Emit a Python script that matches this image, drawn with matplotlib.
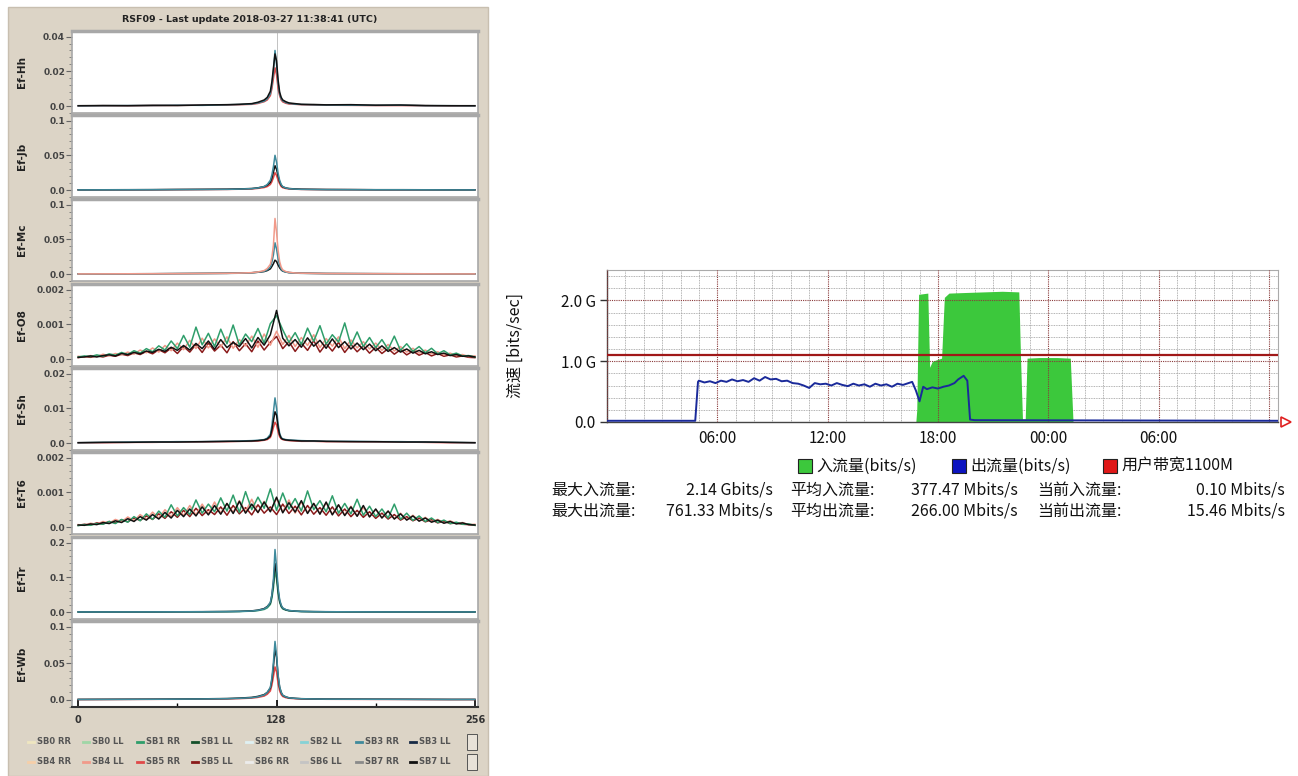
import numpy as np
import matplotlib.pyplot as plt
from matplotlib.patches import Rectangle
from matplotlib.lines import Line2D
from matplotlib.ticker import AutoMinorLocator

W, H = 1298, 776

############## left: spectra data ##################
SERIES = ["SB0 RR", "SB0 LL", "SB1 RR", "SB1 LL", "SB2 RR", "SB2 LL", "SB3 RR", "SB3 LL",
          "SB4 RR", "SB4 LL", "SB5 RR", "SB5 LL", "SB6 RR", "SB6 LL", "SB7 RR", "SB7 LL"]
SERIES_COLORS = ["#efe6c0", "#9fd6a6", "#2f9e6b", "#14502a", "#dff1f3", "#86d2d6", "#3f8a9c", "#172a45",
                 "#f6cfa8", "#f19a8a", "#e04848", "#8a1a1a", "#ececec", "#c4c4c4", "#8a8a8a", "#111111"]

PANELS = ["Ef-Hh", "Ef-Jb", "Ef-Mc", "Ef-O8", "Ef-Sh", "Ef-T6", "Ef-Tr", "Ef-Wb"]
PANEL_YMAX = [0.04, 0.1, 0.1, 0.002, 0.02, 0.002, 0.2, 0.1]
PANEL_YTICKS = [[0, 0.02, 0.04], [0, 0.05, 0.1], [0, 0.05, 0.1], [0, 0.001, 0.002],
                [0, 0.01, 0.02], [0, 0.001, 0.002], [0, 0.1, 0.2], [0, 0.05, 0.1]]
PANEL_YLABELS = [["0.0", "0.02", "0.04"], ["0.0", "0.05", "0.1"], ["0.0", "0.05", "0.1"],
                 ["0.0", "0.001", "0.002"], ["0.0", "0.01", "0.02"], ["0.0", "0.001", "0.002"],
                 ["0.0", "0.1", "0.2"], ["0.0", "0.05", "0.1"]]

# channels for the peaked panels (values in units of 1e-3)
PEAK_CH = [0, 16, 32, 48, 64, 80, 96, 104, 112, 116, 120, 122, 124, 125, 126, 127, 128,
           129, 130, 131, 132, 134, 136, 140, 144, 152, 160, 176, 192, 208, 224, 240, 256]

HH_SB5RR = [0.1, 0.2, 0.2, 0.3, 0.4, 0.5, 0.6, 0.8, 1.0, 1.5, 2.5, 3.5, 6.0, 10, 16, 22, 18,
            10, 6, 3.5, 2.4, 1.6, 1.2, 1.0, 0.8, 0.6, 0.5, 0.4, 0.3, 0.3, 0.2, 0.1, 0.1]
HH_SB3RR = [0.1, 0.2, 0.3, 0.3, 0.5, 0.4, 0.7, 0.9, 1.2, 1.8, 2.8, 4.2, 7.0, 12, 20, 32, 24,
            13, 7, 4.2, 3.0, 2.0, 1.5, 1.1, 0.9, 0.7, 0.6, 0.5, 0.4, 0.5, 0.2, 0.2, 0.1]
HH_SB7LL = [0.2, 0.3, 0.2, 0.4, 0.3, 0.6, 0.8, 1.0, 1.4, 2.2, 3.5, 5.0, 8.5, 14, 22, 30, 26,
            15, 8, 5, 3.5, 2.5, 1.8, 1.4, 1.0, 0.9, 0.7, 0.8, 0.5, 0.6, 0.3, 0.2, 0.2]

JB_SB5RR = [0.2, 0.3, 0.3, 0.4, 0.6, 0.7, 0.9, 1.2, 1.6, 2.4, 3.6, 5.0, 8.0, 12, 18, 25, 21,
            14, 9, 5, 3.4, 2.2, 1.6, 1.2, 0.9, 0.7, 0.6, 0.5, 0.4, 0.3, 0.3, 0.2, 0.2]
JB_SB7LL = [0.3, 0.4, 0.5, 0.6, 0.8, 1.0, 1.2, 1.6, 2.2, 3.2, 5.0, 7.0, 11, 17, 26, 35, 30,
            20, 12, 7, 4.5, 3.0, 2.2, 1.6, 1.2, 1.0, 0.8, 0.7, 0.5, 0.5, 0.4, 0.3, 0.3]
JB_SB3RR = [0.2, 0.3, 0.4, 0.5, 0.7, 0.8, 1.0, 1.4, 2.0, 3.0, 5.0, 8.0, 14, 22, 34, 50, 40,
            24, 14, 8, 5.0, 3.0, 2.0, 1.4, 1.0, 0.8, 0.6, 0.5, 0.4, 0.4, 0.3, 0.2, 0.2]

MC_SB7LL = [0.3, 0.3, 0.4, 0.5, 0.7, 0.9, 1.1, 1.4, 1.9, 2.6, 3.6, 5.0, 7.5, 11, 15, 20, 18,
            13, 9, 6, 4.2, 3.0, 2.2, 1.6, 1.2, 1.0, 0.8, 0.7, 0.6, 0.5, 0.4, 0.3, 0.3]
MC_SB3RR = [0.2, 0.3, 0.3, 0.4, 0.6, 0.7, 0.9, 1.2, 1.8, 2.6, 4.0, 6.0, 10, 17, 28, 45, 36,
            22, 12, 7, 4.4, 2.8, 1.9, 1.3, 1.0, 0.8, 0.6, 0.5, 0.4, 0.4, 0.3, 0.2, 0.2]
MC_SB4LL = [0.2, 0.3, 0.4, 0.5, 0.6, 0.8, 1.0, 1.4, 2.0, 3.0, 5.0, 8.0, 14, 24, 42, 80, 60,
            34, 18, 10, 6.0, 3.6, 2.4, 1.6, 1.2, 0.9, 0.7, 0.6, 0.5, 0.4, 0.3, 0.2, 0.2]

SH_SB5RR = [0.1, 0.1, 0.2, 0.2, 0.3, 0.3, 0.4, 0.5, 0.5, 0.6, 0.8, 1.0, 1.6, 2.8, 4.5, 6.0, 5.2,
            3.2, 1.8, 1.2, 1.0, 0.8, 0.7, 0.6, 0.5, 0.5, 0.4, 0.4, 0.3, 0.3, 0.2, 0.1, 0.1]
SH_SB3RR = [0.1, 0.2, 0.3, 0.3, 0.4, 0.4, 0.5, 0.6, 0.7, 0.8, 1.0, 1.4, 2.5, 5.0, 9.0, 13, 10,
            5.5, 2.8, 1.6, 1.2, 1.0, 0.9, 0.8, 0.7, 0.6, 0.5, 0.5, 0.4, 0.4, 0.3, 0.2, 0.1]
SH_SB7LL = [0.1, 0.2, 0.2, 0.3, 0.3, 0.4, 0.5, 0.5, 0.6, 0.7, 0.9, 1.2, 2.0, 3.8, 6.5, 9.0, 8.0,
            4.5, 2.4, 1.4, 1.1, 0.9, 0.8, 0.7, 0.6, 0.6, 0.5, 0.4, 0.4, 0.3, 0.3, 0.2, 0.1]

TR_SB1RR = [0.2, 0.3, 0.3, 0.4, 0.6, 0.8, 1.1, 1.5, 2.6, 4.2, 7.5, 12, 22, 40, 70, 120, 95,
            52, 28, 15, 9.0, 5.5, 3.6, 2.2, 1.5, 1.0, 0.8, 0.6, 0.5, 0.4, 0.3, 0.3, 0.2]
TR_SB7LL = [0.3, 0.4, 0.4, 0.5, 0.8, 1.0, 1.5, 2.0, 3.4, 5.5, 10, 16, 26, 48, 85, 140, 110,
            62, 32, 18, 11, 6.5, 4.2, 2.6, 1.7, 1.2, 0.9, 0.7, 0.6, 0.5, 0.4, 0.3, 0.3]
TR_SB3RR = [0.3, 0.3, 0.4, 0.5, 0.7, 0.9, 1.3, 1.8, 3.0, 5.0, 9.0, 15, 28, 50, 95, 180, 130,
            70, 36, 20, 12, 7.0, 4.5, 2.8, 1.8, 1.2, 0.9, 0.7, 0.5, 0.4, 0.4, 0.3, 0.3]

WB_SB5RR = [0.2, 0.3, 0.4, 0.5, 0.6, 0.8, 1.1, 1.5, 2.2, 3.2, 5.0, 7.5, 12, 20, 32, 45, 38,
            22, 12, 7, 4.4, 2.8, 2.0, 1.4, 1.0, 0.8, 0.6, 0.5, 0.4, 0.4, 0.3, 0.2, 0.2]
WB_SB7LL = [0.4, 0.5, 0.6, 0.7, 0.9, 1.2, 1.6, 2.2, 3.2, 4.6, 7.0, 10, 16, 27, 46, 70, 58,
            32, 17, 10, 6.0, 3.8, 2.6, 1.9, 1.4, 1.1, 0.9, 0.8, 0.7, 0.6, 0.5, 0.4, 0.4]
WB_SB3RR = [0.3, 0.4, 0.5, 0.6, 0.8, 1.0, 1.4, 1.9, 2.8, 4.0, 6.5, 10, 17, 30, 52, 80, 62,
            34, 18, 10, 6.2, 3.8, 2.6, 1.8, 1.3, 1.0, 0.8, 0.7, 0.6, 0.5, 0.4, 0.3, 0.3]

# broad panels: every 4th channel 0..256 (values in units of 1e-4)
O8_SB5LL = [0.4, 0.7, 0.5, 0.9, 0.6, 1.1, 0.8, 1.4, 1.0, 1.8, 1.3, 2.2, 1.5, 2.7, 1.8, 3.2,
            1.6, 3.6, 2.0, 4.2, 1.9, 4.6, 2.3, 4.0, 1.8, 5.0, 2.4, 4.4, 2.1, 5.2, 2.6, 4.8,
            6.5, 3.0, 5.0, 2.2, 4.6, 2.5, 5.3, 2.0, 4.4, 2.3, 4.8, 1.9, 4.2, 2.1, 3.8, 1.7,
            3.4, 1.6, 3.0, 1.4, 2.7, 1.2, 2.3, 1.1, 1.9, 0.9, 1.6, 0.8, 1.2, 0.6, 0.9, 0.5, 0.4]
O8_SB4LL = [0.8, 0.5, 1.0, 0.7, 1.4, 0.9, 1.6, 1.2, 2.0, 1.4, 2.6, 1.8, 3.2, 2.0, 3.9, 2.4,
            4.6, 2.7, 5.4, 3.0, 6.0, 3.2, 5.8, 3.5, 6.4, 3.1, 5.6, 3.8, 6.6, 3.4, 7.2, 4.0,
            8.0, 4.2, 6.8, 3.6, 6.2, 3.9, 7.0, 3.3, 5.9, 3.7, 6.4, 3.0, 5.5, 3.2, 5.0, 2.9,
            4.6, 2.5, 4.2, 2.3, 3.6, 2.0, 3.1, 1.7, 2.6, 1.5, 2.1, 1.2, 1.7, 1.0, 1.3, 0.7, 0.9]
O8_SB1RR = [0.6, 0.9, 0.7, 1.2, 0.8, 1.5, 1.1, 1.9, 1.3, 2.4, 1.7, 3.0, 2.1, 3.8, 2.6, 5.2,
            3.0, 6.8, 3.4, 9.2, 4.1, 7.4, 3.6, 8.6, 4.4, 9.8, 4.0, 7.2, 5.0, 8.8, 4.6, 10.2,
            12.5, 8.4, 4.8, 7.6, 4.2, 8.9, 5.1, 9.6, 4.3, 7.0, 4.9, 10.4, 3.9, 7.8, 3.6, 6.2,
            3.3, 5.6, 2.8, 6.6, 2.5, 4.4, 2.2, 3.6, 1.8, 3.1, 1.5, 2.4, 1.2, 1.7, 0.9, 1.0, 0.6]
O8_SB7LL = [0.5, 0.6, 0.9, 0.6, 1.0, 1.2, 0.9, 1.6, 1.3, 1.9, 1.5, 2.3, 1.9, 2.8, 2.2, 3.4,
            2.5, 3.9, 2.6, 4.5, 3.0, 5.2, 2.8, 5.6, 3.3, 4.8, 3.6, 5.9, 3.2, 6.2, 4.0, 7.0,
            14.0, 6.0, 3.8, 5.6, 3.4, 6.1, 3.7, 5.4, 3.1, 5.8, 3.3, 5.0, 2.9, 4.6, 2.7, 4.3,
            2.4, 3.8, 2.2, 3.3, 2.0, 2.9, 1.7, 2.5, 1.5, 2.1, 1.3, 1.7, 1.0, 1.3, 0.8, 0.9, 0.6]

T6_SB5LL = [0.5, 0.8, 0.6, 1.2, 0.9, 1.6, 1.2, 2.1, 1.5, 2.6, 1.9, 3.2, 2.2, 3.8, 2.5, 4.4,
            2.8, 4.8, 3.0, 5.4, 3.3, 5.0, 3.6, 5.8, 3.4, 6.2, 3.8, 5.6, 3.5, 6.4, 4.0, 5.8,
            3.6, 6.6, 3.9, 6.0, 3.5, 6.2, 3.7, 5.6, 3.4, 5.8, 3.2, 5.2, 3.0, 4.8, 2.8, 4.4,
            2.5, 4.0, 2.3, 3.6, 2.0, 3.0, 1.8, 2.6, 1.5, 2.1, 1.2, 1.7, 1.0, 1.2, 0.8, 0.7, 0.5]
T6_SB4LL = [0.7, 0.5, 1.1, 0.8, 1.6, 1.1, 2.2, 1.5, 2.9, 1.8, 3.6, 2.2, 4.3, 2.6, 5.0, 3.0,
            5.6, 3.3, 6.2, 3.5, 6.6, 3.8, 7.2, 4.0, 6.8, 4.2, 7.6, 4.4, 8.0, 4.1, 7.4, 4.5,
            8.2, 4.3, 7.8, 4.0, 7.2, 4.2, 6.8, 3.9, 7.0, 3.7, 6.4, 3.5, 6.0, 3.2, 5.6, 3.0,
            5.0, 2.7, 4.6, 2.4, 4.0, 2.1, 3.4, 1.8, 2.8, 1.5, 2.2, 1.2, 1.8, 1.0, 1.3, 0.7, 0.8]
T6_SB1RR = [0.4, 0.7, 0.5, 1.0, 0.8, 1.6, 1.0, 2.2, 1.4, 3.0, 1.8, 3.8, 2.2, 4.6, 2.8, 6.4,
            3.2, 5.6, 3.6, 7.8, 4.0, 6.6, 4.4, 8.4, 4.6, 9.2, 4.2, 10.2, 5.0, 8.6, 5.4, 11.0,
            4.8, 9.8, 5.2, 8.2, 4.6, 10.4, 5.0, 7.6, 4.4, 9.0, 4.0, 6.8, 3.8, 8.0, 3.4, 6.0,
            3.0, 5.2, 2.6, 6.6, 2.2, 4.0, 1.9, 3.2, 1.6, 2.6, 1.3, 2.0, 1.0, 1.4, 0.8, 0.9, 0.5]
T6_SB7LL = [0.6, 0.5, 0.9, 0.7, 1.3, 1.0, 1.8, 1.3, 2.4, 1.6, 3.0, 2.0, 3.6, 2.3, 4.2, 2.6,
            4.8, 3.0, 5.2, 3.2, 5.8, 3.5, 6.2, 3.7, 6.8, 3.9, 7.4, 4.0, 6.6, 4.2, 7.2, 4.4,
            8.6, 4.1, 7.0, 4.3, 7.6, 3.9, 6.8, 3.7, 7.2, 3.5, 6.4, 3.3, 5.8, 3.1, 6.2, 2.9,
            5.2, 2.6, 4.6, 2.3, 3.8, 2.0, 3.2, 1.7, 2.6, 1.4, 2.0, 1.1, 1.6, 0.9, 1.2, 0.7, 0.6]

PANEL_SERIES = {
    "Ef-Hh": [("SB5 RR", HH_SB5RR), ("SB3 RR", HH_SB3RR), ("SB7 LL", HH_SB7LL)],
    "Ef-Jb": [("SB5 RR", JB_SB5RR), ("SB7 LL", JB_SB7LL), ("SB3 RR", JB_SB3RR)],
    "Ef-Mc": [("SB7 LL", MC_SB7LL), ("SB3 RR", MC_SB3RR), ("SB4 LL", MC_SB4LL)],
    "Ef-O8": [("SB5 LL", O8_SB5LL), ("SB4 LL", O8_SB4LL), ("SB1 RR", O8_SB1RR), ("SB7 LL", O8_SB7LL)],
    "Ef-Sh": [("SB5 RR", SH_SB5RR), ("SB3 RR", SH_SB3RR), ("SB7 LL", SH_SB7LL)],
    "Ef-T6": [("SB5 LL", T6_SB5LL), ("SB4 LL", T6_SB4LL), ("SB1 RR", T6_SB1RR), ("SB7 LL", T6_SB7LL)],
    "Ef-Tr": [("SB1 RR", TR_SB1RR), ("SB7 LL", TR_SB7LL), ("SB3 RR", TR_SB3RR)],
    "Ef-Wb": [("SB5 RR", WB_SB5RR), ("SB7 LL", WB_SB7LL), ("SB3 RR", WB_SB3RR)],
}
PANEL_UNIT = {"Ef-O8": 1e-4, "Ef-T6": 1e-4}

############## right: traffic data (hours from 00:00, Gbit/s) ##################
IN_T = [16.8, 16.85, 16.95, 17.45, 17.55, 17.7, 18.2, 18.35, 18.6, 19.5, 20.5, 21.5, 22.4,
        22.5, 22.6, 22.75, 22.85, 23.5, 24.5, 25.2, 25.35]
IN_V = [0, 0.2, 2.1, 2.12, 0.9, 1.0, 1.05, 2.05, 2.12, 2.13, 2.14, 2.15, 2.14,
        1.0, 0.05, 0.05, 1.05, 1.06, 1.06, 1.05, 0]
OUT_T = [0, 4.8, 4.95, 5.0, 5.3, 5.6, 5.9, 6.2, 6.5, 6.8, 7.1, 7.4, 7.7, 8.0, 8.3, 8.6, 8.9,
         9.2, 9.5, 9.8, 10.1, 10.4, 10.7, 11.0, 11.3, 11.6, 11.9, 12.2, 12.5, 12.8, 13.1,
         13.4, 13.7, 14.0, 14.3, 14.6, 14.9, 15.2, 15.5, 15.8, 16.1, 16.4, 16.6, 16.8, 17.0,
         17.2, 17.4, 17.7, 18.0, 18.3, 18.6, 18.9, 19.1, 19.4, 19.6, 19.75, 20.0, 36.5]
OUT_V = [0.02, 0.02, 0.66, 0.68, 0.65, 0.67, 0.64, 0.68, 0.66, 0.70, 0.67, 0.69, 0.66, 0.72,
         0.68, 0.74, 0.70, 0.71, 0.67, 0.68, 0.64, 0.63, 0.60, 0.56, 0.64, 0.62, 0.63, 0.60,
         0.64, 0.61, 0.59, 0.63, 0.60, 0.62, 0.58, 0.63, 0.60, 0.62, 0.58, 0.63, 0.61, 0.64,
         0.66, 0.52, 0.34, 0.58, 0.54, 0.57, 0.55, 0.58, 0.60, 0.64, 0.70, 0.76, 0.68, 0.04,
         0.03, 0.02]
BANDWIDTH = 1.1
TIME_TICKS = [6, 12, 18, 24, 30]
TIME_LABELS = ["06:00", "12:00", "18:00", "00:00", "06:00"]
RATE_TICKS = [0, 1, 2]
RATE_LABELS = ["0.0", "1.0 G", "2.0 G"]
LEGEND = [("入流量(bits/s)", "#3cc83c"), ("出流量(bits/s)", "#0c14c0"), ("用户带宽1100M", "#e01818")]
STATS = [["最大入流量:", "2.14 Gbits/s", "平均入流量:", "377.47 Mbits/s", "当前入流量:", "0.10 Mbits/s"],
         ["最大出流量:", "761.33 Mbits/s", "平均出流量:", "266.00 Mbits/s", "当前出流量:", "15.46 Mbits/s"]]


def fx(px):
    return px / W


def fy(py):
    return 1 - py / H


fig = plt.figure(figsize=(W / 100, H / 100), dpi=100, facecolor="white")

# beige panel behind the spectra
fig.patches.append(Rectangle((fx(8), 0), fx(488) - fx(8), fy(7), transform=fig.transFigure,
                             facecolor="#dcd4c6", edgecolor="#c8bfb0", lw=1, zorder=-10))
fig.text(fx(250), fy(20), "RSF09 - Last update 2018-03-27 11:38:41 (UTC)", ha="center", va="center",
         fontsize=6.8, fontweight="bold", color="#222222")

PANEL_PX = [(31, 113), (115, 197), (199, 281), (284, 366), (368, 450), (452, 534), (537, 619), (621, 707)]
color_of = dict(zip(SERIES, SERIES_COLORS))

for i, name in enumerate(PANELS):
    top, bot = PANEL_PX[i]
    ax = fig.add_axes([fx(72), fy(bot), fx(478) - fx(72), (bot - top) / H])
    unit = PANEL_UNIT.get(name, 1e-3)
    for sname, vals in PANEL_SERIES[name]:
        v = np.array(vals) * unit
        if len(v) == len(PEAK_CH):
            ch = np.array(PEAK_CH)
        else:
            ch = np.linspace(0, 256, len(v))
        ax.plot(ch, v, color=color_of[sname], lw=1.1)
    ax.axvline(128, color="#b8b8b8", lw=0.6, zorder=0)
    ymax = PANEL_YMAX[i]
    ax.set_xlim(-4, 258)
    ax.set_ylim(-0.1 * ymax, 1.08 * ymax)
    ax.set_yticks(PANEL_YTICKS[i])
    ax.set_yticklabels(PANEL_YLABELS[i])
    ax.yaxis.set_minor_locator(AutoMinorLocator(5))
    ax.tick_params(axis="y", which="major", direction="out", length=4, width=0.8, labelsize=6.5,
                   labelcolor="#444444", color="#666666", pad=1)
    ax.tick_params(axis="y", which="minor", direction="out", length=2, width=0.6, color="#777777")
    for lab in ax.get_yticklabels():
        lab.set_fontweight("bold")
    for sp in ax.spines.values():
        sp.set_color("#a8a8a8")
        sp.set_linewidth(1.2)
    ax.spines["top"].set_linewidth(2.5)
    fig.text(fx(22), fy((top + bot) / 2), name, rotation=90, ha="center", va="center",
             fontsize=7.5, fontweight="bold", color="#222222")
    if i < len(PANELS) - 1:
        ax.set_xticks([])
    else:
        ax.set_xticks([0, 128, 256])
        ax.set_xticks([64, 192], minor=True)
        ax.set_xticklabels(["0", "128", "256"])
        ax.spines["bottom"].set_color("#333333")
        ax.spines["bottom"].set_linewidth(1.5)
        ax.tick_params(axis="x", which="major", direction="in", length=5, width=1.2,
                       labelsize=7, labelcolor="#333333", pad=6)
        ax.tick_params(axis="x", which="minor", direction="in", length=3, width=1)
        for lab in ax.get_xticklabels():
            lab.set_fontweight("bold")

# legend for the spectra, two rows of eight
for k, (sname, col) in enumerate(zip(SERIES, SERIES_COLORS)):
    row, colk = divmod(k, 8)
    x0 = 28 + colk * 54.6
    y0 = 742 + row * 20
    fig.add_artist(Line2D([fx(x0), fx(x0 + 6)], [fy(y0), fy(y0)], color=col, lw=2,
                          transform=fig.transFigure))
    fig.text(fx(x0 + 9), fy(y0), sname, ha="left", va="center", fontsize=6,
             fontweight="bold", color="#555555")
for yb in (734, 754):
    fig.patches.append(Rectangle((fx(467), fy(yb + 16)), fx(10), 16 / H, transform=fig.transFigure,
                                 facecolor="#e8e2d8", edgecolor="#555555", lw=0.7))

############## right: traffic chart ##################
plt.rcParams["font.family"] = ["Noto Sans CJK SC", "DejaVu Sans"]
ax = fig.add_axes([fx(607), fy(422), fx(1278) - fx(607), (422 - 270) / H])
ax.set_xlim(0, 36.5)
ax.set_ylim(0, 2.5)

for h in range(0, 37):
    major = h % 6 == 0
    ax.axvline(h, color="#8a3a3a" if major else "#9a9a9a", lw=0.8 if major else 0.6,
               ls=(0, (1, 1)), zorder=3 if major else 1)
for k in range(1, 13):
    r = k * 0.2
    major = k % 5 == 0
    ax.axhline(r, color="#8a3a3a" if major else "#9a9a9a", lw=0.8 if major else 0.6,
               ls=(0, (1, 1)), zorder=3 if major else 1)

ax.fill_between(IN_T, IN_V, color="#3cc83c", lw=0, zorder=2)
ax.plot(OUT_T, OUT_V, color="#1a2a9a", lw=1.4, zorder=4)
ax.axhline(BANDWIDTH, color="#a01818", lw=1.6, zorder=5)

ax.set_xticks(TIME_TICKS)
ax.set_xticklabels(TIME_LABELS)
ax.set_yticks(RATE_TICKS)
ax.set_yticklabels(RATE_LABELS)
ax.tick_params(axis="x", length=0, labelsize=11, pad=6, labelcolor="#111111")
ax.tick_params(axis="y", length=5, width=1, color="#333333", labelsize=11, pad=3,
               labelcolor="#111111")
for side in ("top", "right"):
    ax.spines[side].set_color("#aaaaaa")
    ax.spines[side].set_linewidth(0.8)
for side in ("left", "bottom"):
    ax.spines[side].set_color("#444444")
    ax.spines[side].set_linewidth(1.0)
ax.plot([1.012], [0], transform=ax.transAxes, marker=">", ms=7, mfc="none", mec="#e02020",
        mew=1.2, clip_on=False)

fig.text(fx(515), fy(346), "流速 [bits/sec]", rotation=90, ha="center", va="center",
         fontsize=11.5, color="#111111")

# legend row
for (label, col), xs in zip(LEGEND, (798, 952, 1103)):
    fig.patches.append(Rectangle((fx(xs), fy(473)), fx(14), 14 / H, transform=fig.transFigure,
                                 facecolor=col, edgecolor="#222222", lw=0.8))
    fig.text(fx(xs + 18), fy(466), label, ha="left", va="center", fontsize=11.5, color="#111111")

# statistics rows
for r, row in enumerate(STATS):
    yy = fy(490 + r * 21)
    anchors = [(551, "left"), (773, "right"), (790, "left"), (1018, "right"), (1037, "left"), (1285, "right")]
    for txt, (xp, ha) in zip(row, anchors):
        fig.text(fx(xp), yy, txt, ha=ha, va="center", fontsize=11.5, color="#111111")

fig.savefig("out.png", dpi=100, facecolor="white")
